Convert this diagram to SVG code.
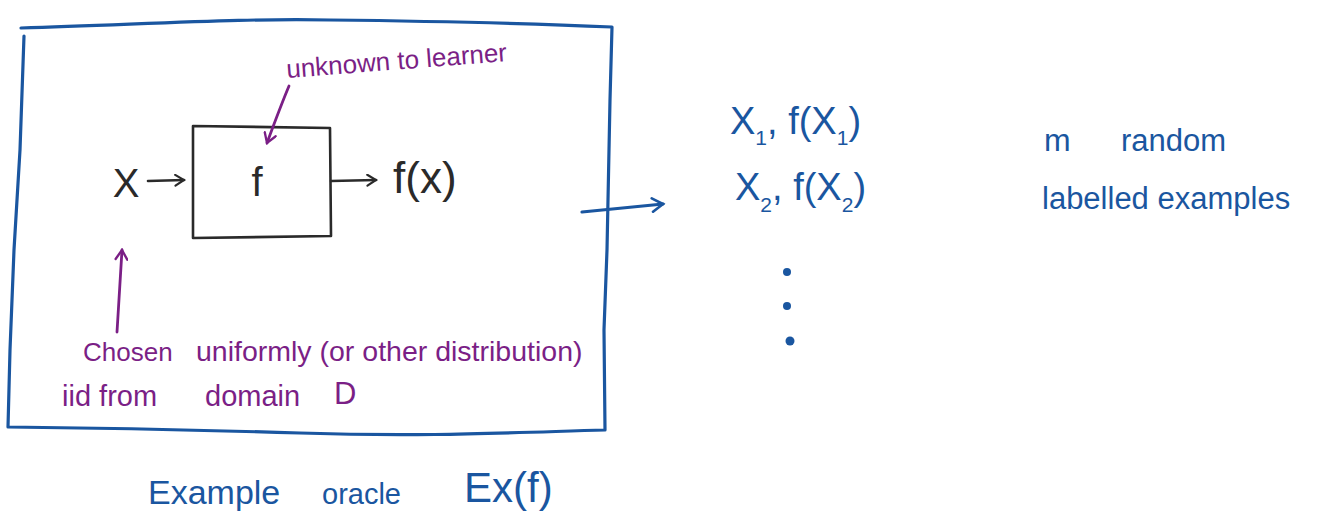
<svg xmlns="http://www.w3.org/2000/svg" width="1318" height="528" viewBox="0 0 1318 528">
<defs>
<style>
.blue{fill:none;stroke:#1a56a0;stroke-width:3.2;stroke-linecap:round;stroke-linejoin:round}
.blk{fill:none;stroke:#2a2a2a;stroke-width:2.6;stroke-linecap:round;stroke-linejoin:round}
.pur{fill:none;stroke:#7b1f86;stroke-width:2.8;stroke-linecap:round;stroke-linejoin:round}
.tb{fill:#1a56a0;font-family:"Liberation Sans",Arial,sans-serif}
.tk{fill:#2a2a2a;font-family:"Liberation Sans",Arial,sans-serif}
.tp{fill:#7b1f86;font-family:"Liberation Sans",Arial,sans-serif}
</style>
<marker id="ab" viewBox="0 0 12 12" refX="10" refY="6" markerWidth="5" markerHeight="5" orient="auto" markerUnits="strokeWidth"><path d="M2,1 L10,6 L2,11" fill="none" stroke="#1a56a0" stroke-width="2" stroke-linecap="round"/></marker>
<marker id="ak" viewBox="0 0 12 12" refX="10" refY="6" markerWidth="5" markerHeight="5" orient="auto" markerUnits="strokeWidth"><path d="M2,1 L10,6 L2,11" fill="none" stroke="#2a2a2a" stroke-width="2" stroke-linecap="round"/></marker>
<marker id="ap" viewBox="0 0 12 12" refX="10" refY="6" markerWidth="5" markerHeight="5" orient="auto" markerUnits="strokeWidth"><path d="M2,1 L10,6 L2,11" fill="none" stroke="#7b1f86" stroke-width="2" stroke-linecap="round"/></marker>
</defs>
<rect width="1318" height="528" fill="#ffffff"/>

<g id="oracle">
<path class="blue" d="M21,28 C150,24 250,18 330,20 C420,21 500,22 612,27 L610,100 L607,250 L604,330 L605,430 C500,433 420,437 300,433 C200,430 100,428 8,427 L10,350 L14,250 L20,150 L24,36"/>
<text class="tb" x="148" y="504" font-size="34">Example</text>
<text class="tb" x="322" y="504" font-size="29">oracle</text>
<text class="tb" x="464" y="502" font-size="42">Ex(f)</text>
</g>

<g id="function-box">
<path class="blk" d="M193,126 L330,128 L331,236 L193,238 Z"/>
<text class="tk" x="257" y="196" font-size="40" text-anchor="middle">f</text>
</g>

<g id="input-x">
<text class="tk" x="126" y="197" font-size="40" text-anchor="middle">X</text>
</g>

<g id="output-fx">
<text class="tk" x="393" y="193" font-size="44">f(x)</text>
</g>

<g id="unknown-label">
<text class="tp" x="287" y="78" font-size="26" transform="rotate(-4.4 287 78)">unknown to learner</text>
</g>

<g id="chosen-label">
<text class="tp" x="83" y="361" font-size="26">Chosen</text>
<text class="tp" x="196" y="361" font-size="28.5">uniformly (or other distribution)</text>
<text class="tp" x="62" y="406" font-size="29">iid from</text>
<text class="tp" x="205" y="406" font-size="29">domain</text>
<text class="tp" x="334" y="404" font-size="31">D</text>
</g>

<g id="samples">
<text class="tb" x="730" y="134" font-size="38">X<tspan font-size="21" dy="11">1</tspan><tspan dy="-11">, f(X</tspan><tspan font-size="21" dy="11">1</tspan><tspan dy="-11">)</tspan></text>
<text class="tb" x="735" y="200" font-size="38">X<tspan font-size="21" dy="12">2</tspan><tspan dy="-12">, f(X</tspan><tspan font-size="21" dy="12">2</tspan><tspan dy="-12">)</tspan></text>
<circle cx="787" cy="272" r="4" fill="#1a56a0"/>
<circle cx="787" cy="306" r="4" fill="#1a56a0"/>
<circle cx="790" cy="341" r="4.5" fill="#1a56a0"/>
</g>

<g id="description">
<text class="tb" x="1044" y="151" font-size="32">m</text>
<text class="tb" x="1121" y="151" font-size="31">random</text>
<text class="tb" x="1042" y="209" font-size="31">labelled examples</text>
</g>

<g id="connectors">
<path class="blk" d="M148,181 L184,180" marker-end="url(#ak)"/>
<path class="blk" d="M331,181 L376,180" marker-end="url(#ak)"/>
<path class="pur" d="M289,86 C281,105 274,124 267,143" marker-end="url(#ap)"/>
<path class="pur" d="M117,332 L122,250" marker-end="url(#ap)"/>
<path class="blue" d="M582,212 L663,204" marker-end="url(#ab)"/>
</g>
</svg>
